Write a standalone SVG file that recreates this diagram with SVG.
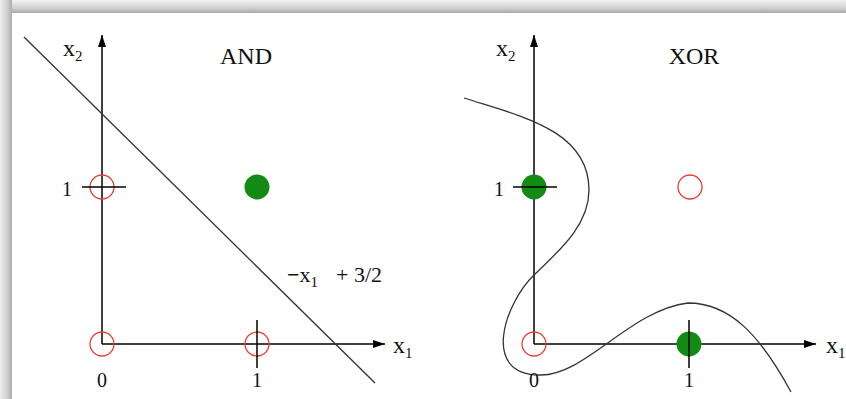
<svg xmlns="http://www.w3.org/2000/svg" width="846" height="399" viewBox="0 0 846 399">
  <defs>
    <linearGradient id="gTop" x1="0" y1="0" x2="0" y2="1">
      <stop offset="0" stop-color="#f2f2f2"/>
      <stop offset="0.6" stop-color="#d2d2d2"/>
      <stop offset="1" stop-color="#a9a9a9"/>
    </linearGradient>
    <linearGradient id="gLeft" x1="0" y1="0" x2="1" y2="0">
      <stop offset="0" stop-color="#eeeeee"/>
      <stop offset="0.6" stop-color="#d0d0d0"/>
      <stop offset="1" stop-color="#ababab"/>
    </linearGradient>
    <marker id="arr" viewBox="0 0 12 8" refX="12" refY="4" markerWidth="12" markerHeight="8" markerUnits="userSpaceOnUse" orient="auto">
      <path d="M0,0 L12,4 L0,8 Z" fill="#000"/>
    </marker>
    <style>
      .axis { stroke: #000; stroke-width: 1.5; fill: none; }
      .tick { stroke: #000; stroke-width: 1.5; fill: none; }
      .bound { stroke: #333; stroke-width: 1.3; fill: none; }
      .open { fill: none; stroke: #e8423a; stroke-width: 1.3; }
      .full { fill: #138a13; stroke: none; }
      text { font-family: "Liberation Serif", "Times New Roman", serif; fill: #111; }
      .lbl { font-size: 24px; }
      .num { font-size: 20px; text-anchor: middle; }
      .title { font-size: 24px; text-anchor: middle; }
      .sub { font-size: 15px; }
    </style>
  </defs>

  <!-- frame -->
  <rect x="0" y="0" width="846" height="399" fill="#ffffff"/>
  <rect x="0" y="0" width="846" height="13" fill="url(#gTop)"/>
  <rect x="0" y="0" width="12" height="399" fill="url(#gLeft)"/>
  <rect x="12" y="13" width="834" height="386" fill="#ffffff"/>

  <!-- connectors: axes and boundaries -->
  <g id="connectors">
    <line class="axis" x1="102" y1="344" x2="102" y2="35" marker-end="url(#arr)"/>
    <line class="axis" x1="102" y1="344" x2="385" y2="344" marker-end="url(#arr)"/>
    <line class="axis" x1="534" y1="344" x2="534" y2="35" marker-end="url(#arr)"/>
    <line class="axis" x1="534" y1="344" x2="816" y2="344" marker-end="url(#arr)"/>
    <line class="bound" x1="24" y1="37" x2="375" y2="383"/>
    <path class="bound" d="M464,98 C520,116 589,130 589,190 C589,225 560,250 534,275 C505,303 480,375 540,375 C585,376 630,310 688,303 C730,303 760,335 791,392"/>
  </g>

  <!-- AND plot -->
  <g id="and-labels">
    <text class="lbl" x="63" y="56">x<tspan class="sub" dy="5">2</tspan></text>
    <text class="title" x="246" y="64">AND</text>
    <text class="lbl" x="393" y="353">x<tspan class="sub" dy="5">1</tspan></text>
    <text class="num" x="67" y="196">1</text>
    <text class="num" x="102" y="387">0</text>
    <text class="num" x="257" y="387">1</text>
    <text x="287" y="282" style="font-size:22px"><tspan font-weight="bold">−</tspan>x<tspan class="sub" dy="5">1</tspan><tspan dy="-5" x="336">+ 3/2</tspan></text>
  </g>
  <g id="and-p01">
    <circle class="open" cx="102" cy="187" r="12"/>
    <line class="tick" x1="82" y1="187" x2="126" y2="187"/>
  </g>
  <g id="and-p11">
    <circle class="full" cx="257" cy="187" r="12.5"/>
  </g>
  <g id="and-p00">
    <circle class="open" cx="102" cy="344" r="12"/>
  </g>
  <g id="and-p10">
    <circle class="open" cx="257" cy="344" r="12"/>
    <line class="tick" x1="257" y1="320" x2="257" y2="368"/>
  </g>

  <!-- XOR plot -->
  <g id="xor-labels">
    <text class="lbl" x="496" y="56">x<tspan class="sub" dy="5">2</tspan></text>
    <text class="title" x="694" y="64">XOR</text>
    <text class="lbl" x="826" y="353">x<tspan class="sub" dy="5">1</tspan></text>
    <text class="num" x="499" y="196">1</text>
    <text class="num" x="534" y="387">0</text>
    <text class="num" x="689" y="387">1</text>
  </g>
  <g id="xor-p01">
    <circle class="full" cx="534" cy="187" r="12.5"/>
    <line class="tick" x1="513" y1="187" x2="557" y2="187"/>
  </g>
  <g id="xor-p11">
    <circle class="open" cx="690" cy="187" r="12"/>
  </g>
  <g id="xor-p00">
    <circle class="open" cx="534" cy="344" r="12"/>
  </g>
  <g id="xor-p10">
    <circle class="full" cx="689" cy="344" r="12.5"/>
    <line class="tick" x1="689" y1="320" x2="689" y2="368"/>
  </g>
</svg>
